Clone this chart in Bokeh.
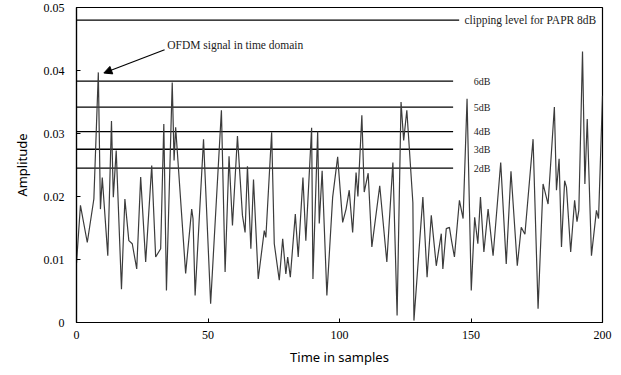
from bokeh.plotting import figure
from bokeh.models import FixedTicker, Arrow, NormalHead, Range1d
from bokeh.core.properties import value
from bokeh.embed import file_html
from bokeh.resources import INLINE

# OFDM signal amplitude (sample index, amplitude)
sig_x = [0, 1.5, 4.1, 6.6, 8.3, 9.1, 9.8, 11.9, 13.3, 14.0, 15.1, 17.1, 18.4, 19.9, 21.2, 22.9,
         24.4, 26.3, 28.6, 30.1, 32.0, 33.2, 34.2, 36.4, 37.1, 37.7, 41.5, 43.8, 44.3, 45.1,
         48.3, 51.0, 55.1, 56.5, 58.0, 59.3, 61.2, 63.1, 64.1, 65.0, 66.3, 67.3, 69.1, 71.4,
         72.0, 74.2, 75.2, 77.1, 78.4, 79.6, 80.3, 81.3, 83.2, 84.3, 86.1, 87.2, 89.4, 89.9,
         91.7, 92.3, 93.4, 95.2, 97.4, 99.3, 101.2, 102.5, 103.7, 105.0, 106.3, 107.0, 108.5,
         109.4, 110.9, 112.3, 115.3, 118.0, 120.3, 121.9, 123.4, 124.4, 125.6, 127.9, 128.3,
         131.7, 133.3, 134.9, 136.8, 138.7, 139.3, 140.6, 141.8, 142.6, 143.7, 145.6, 147.0,
         148.5, 150.1, 151.4, 152.6, 153.6, 154.9, 156.5, 158.4, 161.3, 163.4, 165.2, 167.6,
         169.1, 170.5, 173.6, 175.5, 177.4, 179.3, 181.7, 182.5, 183.5, 184.4, 185.6, 186.3,
         187.9, 189.4, 190.3, 191.0, 192.4, 193.3, 194.2, 195.8, 197.7, 198.5, 200.0]
sig_y = [0.0094, 0.0186, 0.0127, 0.0196, 0.0397, 0.0180, 0.0230, 0.0106, 0.0320, 0.0199, 0.0273,
         0.0053, 0.0196, 0.0130, 0.0125, 0.0085, 0.0231, 0.0096, 0.0249, 0.0104, 0.0117, 0.0315,
         0.0051, 0.0381, 0.0257, 0.0310, 0.0078, 0.0180, 0.0165, 0.0043, 0.0291, 0.0030, 0.0337,
         0.0080, 0.0264, 0.0154, 0.0296, 0.0170, 0.0143, 0.0248, 0.0117, 0.0227, 0.0069, 0.0146,
         0.0135, 0.0302, 0.0125, 0.0067, 0.0133, 0.0077, 0.0104, 0.0072, 0.0172, 0.0104, 0.0230,
         0.0130, 0.0309, 0.0069, 0.0303, 0.0157, 0.0241, 0.0043, 0.0199, 0.0263, 0.0159, 0.0180,
         0.0210, 0.0143, 0.0238, 0.0200, 0.0329, 0.0207, 0.0237, 0.0120, 0.0217, 0.0096, 0.0254,
         0.0011, 0.0350, 0.0289, 0.0337, 0.0190, 0.0003, 0.0199, 0.0072, 0.0170, 0.0090, 0.0141,
         0.0085, 0.0149, 0.0151, 0.0130, 0.0104, 0.0194, 0.0165, 0.0355, 0.0051, 0.0167, 0.0125,
         0.0199, 0.0112, 0.0180, 0.0106, 0.0254, 0.0093, 0.0240, 0.0090, 0.0151, 0.0140, 0.0291,
         0.0022, 0.0220, 0.0188, 0.0342, 0.0210, 0.0260, 0.0120, 0.0225, 0.0215, 0.0112, 0.0194,
         0.0160, 0.0178, 0.0430, 0.0220, 0.0323, 0.0106, 0.0178, 0.0165, 0.0360]

# PAPR threshold levels
level_names = ["2dB", "3dB", "4dB", "5dB", "6dB"]
level_values = [0.0245, 0.0275, 0.0303, 0.0342, 0.0383]
clip_label = "clipping level for PAPR 8dB"
clip_value = 0.0480
annot_label = "OFDM signal in time domain"

x_ticks = [0, 50, 100, 150, 200]
y_ticks = [0, 0.01, 0.02, 0.03, 0.04, 0.05]
y_tick_labels = ["0", "0.01", "0.02", "0.03", "0.04", "0.05"]

p = figure(width=621, height=375, output_backend="svg", toolbar_location=None,
           x_range=Range1d(0, 200), y_range=Range1d(0, 0.05),
           min_border_left=76, min_border_right=19, min_border_top=7, min_border_bottom=53)
p.grid.visible = False
p.outline_line_color = "black"
p.outline_line_width = 1.2
p.background_fill_color = "white"
p.border_fill_color = "white"

for ax in (p.xaxis, p.yaxis):
    ax.axis_line_color = "black"
    ax.axis_line_width = 1.2
    ax.major_tick_in = 4
    ax.major_tick_out = 0
    ax.minor_tick_line_color = None
    ax.major_tick_line_color = "black"
    ax.major_label_text_font = "Liberation Serif"
    ax.major_label_text_font_size = "12px"
    ax.major_label_text_color = "black"
    ax.axis_label_text_font = "Noto Sans"
    ax.axis_label_text_font_size = "13px"
    ax.axis_label_text_font_style = "normal"
    ax.axis_label_text_color = "black"

p.xaxis.ticker = FixedTicker(ticks=x_ticks)
p.yaxis.ticker = FixedTicker(ticks=y_ticks)
p.yaxis.major_label_overrides = {t: l for t, l in zip(y_ticks, y_tick_labels)}
p.xaxis.axis_label = "Time in samples"
p.yaxis.axis_label = "Amplitude"
p.xaxis.major_label_standoff = 8
p.yaxis.major_label_standoff = 12
p.xaxis.axis_label_standoff = 6
p.yaxis.axis_label_standoff = 10

# threshold lines
p.segment(x0=[0] * len(level_values), y0=level_values, x1=[143.2] * len(level_values),
          y1=level_values, line_color="black", line_width=1.3)
p.segment(x0=[0], y0=[clip_value], x1=[145.5], y1=[clip_value], line_color="black", line_width=1.3)

# signal
p.line(sig_x, sig_y, line_color="#3c3c3c", line_width=1.2)

# labels
p.text(x=[151.0] * len(level_values), y=level_values, text=level_names,
       text_font=value("Liberation Serif"), text_font_size="10px", text_color="#222222",
       text_baseline="middle", text_align="left")
p.text(x=[147.5], y=[clip_value], text=[clip_label],
       text_font=value("Liberation Serif"), text_font_size="11.5px", text_color="#222222",
       text_baseline="middle", text_align="left")
p.text(x=[34.5], y=[0.0440], text=[annot_label],
       text_font=value("Liberation Serif"), text_font_size="11.5px", text_color="#222222",
       text_baseline="middle", text_align="left")

p.add_layout(Arrow(end=NormalHead(size=8, fill_color="black", line_color="black"),
                   x_start=33.5, y_start=0.0433, x_end=10.4, y_end=0.0396,
                   line_color="black", line_width=1.2))

open("out.html", "w").write(file_html(p, INLINE))
